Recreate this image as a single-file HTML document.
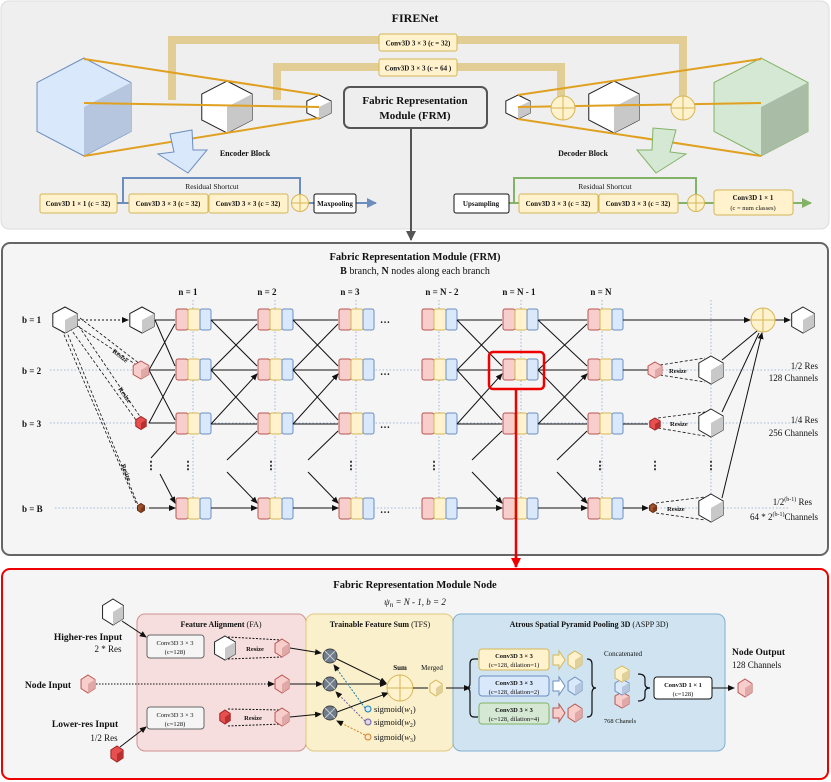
<!DOCTYPE html>
<html><head><meta charset="utf-8"><style>
html,body{margin:0;padding:0;background:#fff}
svg{display:block}
text{font-family:"Liberation Serif",serif;fill:#111}
.b{font-weight:bold}
</style></head><body>
<svg width="831" height="782" viewBox="0 0 831 782" xmlns="http://www.w3.org/2000/svg">
<defs>
<marker id="ar" markerWidth="7" markerHeight="7" refX="6" refY="3.5" orient="auto" markerUnits="userSpaceOnUse"><path d="M0,0.5 L7,3.5 L0,6.5 Z" fill="#111"/></marker>
<marker id="arg" markerWidth="10" markerHeight="10" refX="9" refY="5" orient="auto" markerUnits="userSpaceOnUse"><path d="M0,0 L10,5 L0,10 Z" fill="#555"/></marker>
<marker id="arr" markerWidth="10" markerHeight="10" refX="9" refY="5" orient="auto" markerUnits="userSpaceOnUse"><path d="M0,0 L10,5 L0,10 Z" fill="#e00"/></marker>
<marker id="arb" markerWidth="10" markerHeight="10" refX="9" refY="5" orient="auto" markerUnits="userSpaceOnUse"><path d="M0,0 L10,5 L0,10 Z" fill="#6c8ebf"/></marker>
<marker id="argr" markerWidth="10" markerHeight="10" refX="9" refY="5" orient="auto" markerUnits="userSpaceOnUse"><path d="M0,0 L10,5 L0,10 Z" fill="#82b366"/></marker>
<g id="cW"><polygon points="0,-1 0.87,-0.5 0.87,0.5 0,1 -0.87,0.5 -0.87,-0.5" fill="#fff" stroke="#222" vector-effect="non-scaling-stroke"/><polygon points="0,0 0.87,-0.5 0.87,0.5 0,1" fill="#c8c8c8" stroke="none"/></g>
<g id="cP"><polygon points="0,-1 0.87,-0.5 0.87,0.5 0,1 -0.87,0.5 -0.87,-0.5" fill="#f8cecc" stroke="#b85450" vector-effect="non-scaling-stroke"/><polygon points="0,0 0.87,-0.5 0.87,0.5 0,1" fill="#e0a8a6"/></g>
<g id="cR"><polygon points="0,-1 0.87,-0.5 0.87,0.5 0,1 -0.87,0.5 -0.87,-0.5" fill="#e85050" stroke="#a02020" vector-effect="non-scaling-stroke"/><polygon points="0,0 0.87,-0.5 0.87,0.5 0,1" fill="#b83030"/></g>
<g id="cBr"><polygon points="0,-1 0.87,-0.5 0.87,0.5 0,1 -0.87,0.5 -0.87,-0.5" fill="#a0522d" stroke="#5a2a10" vector-effect="non-scaling-stroke"/><polygon points="0,0 0.87,-0.5 0.87,0.5 0,1" fill="#7a3a1a"/></g>
<g id="cY"><polygon points="0,-1 0.87,-0.5 0.87,0.5 0,1 -0.87,0.5 -0.87,-0.5" fill="#fff2cc" stroke="#d6b656" vector-effect="non-scaling-stroke"/><polygon points="0,0 0.87,-0.5 0.87,0.5 0,1" fill="#e0d09a"/></g>
<g id="cBl"><polygon points="0,-1 0.87,-0.5 0.87,0.5 0,1 -0.87,0.5 -0.87,-0.5" fill="#dae8fc" stroke="#6c8ebf" vector-effect="non-scaling-stroke"/><polygon points="0,0 0.87,-0.5 0.87,0.5 0,1" fill="#b5c6de"/></g>
<g id="cG"><polygon points="0,-1 0.87,-0.5 0.87,0.5 0,1 -0.87,0.5 -0.87,-0.5" fill="#d5e8d4" stroke="#82b366" vector-effect="non-scaling-stroke"/><polygon points="0,0 0.87,-0.5 0.87,0.5 0,1" fill="#a8bca6"/></g>
<g id="trip"><rect x="0" y="0" width="12" height="21" rx="2" fill="#f8cecc" stroke="#b85450"/><rect x="12" y="0" width="12" height="21" rx="2" fill="#fff2cc" stroke="#d6b656"/><rect x="24" y="0" width="11" height="21" rx="2" fill="#dae8fc" stroke="#6c8ebf"/></g>
<g id="plusY"><circle r="1" fill="#fff2cc" stroke="#d6b656" vector-effect="non-scaling-stroke"/><path d="M-1,0H1M0,-1V1" stroke="#d6b656" vector-effect="non-scaling-stroke"/></g>
<g id="mul"><circle r="7" fill="#6d7b8d" stroke="#444"/><path d="M-5,-5L5,5M5,-5L-5,5" stroke="#ccc"/></g>
</defs>

<!-- TOP PANEL -->
<rect x="1" y="1" width="828" height="228" rx="8" fill="#efefef" stroke="#ddd"/>
<text x="415" y="22" text-anchor="middle" class="b" font-size="12">FIRENet</text>
<path d="M172,100 V40 H683 V100" fill="none" stroke="#e2cd94" stroke-width="8"/>
<path d="M277,100 V67 H561 V100" fill="none" stroke="#e2cd94" stroke-width="8"/>
<rect x="379" y="34" width="78" height="17" rx="2" fill="#fff2cc" stroke="#d6b656"/>
<text x="418" y="45.5" text-anchor="middle" font-size="7" class="b">Conv3D 3 × 3 (c = 32)</text>
<rect x="379" y="59" width="78" height="17" rx="2" fill="#fff2cc" stroke="#d6b656"/>
<text x="418" y="70.5" text-anchor="middle" font-size="7" class="b">Conv3D 3 × 3 (c = 64 )</text>
<use href="#cBl" transform="translate(84,107) scale(54,49)"/>
<use href="#cW" transform="translate(227,107) scale(29,26)"/>
<use href="#cW" transform="translate(319,107) scale(14,12)"/>
<use href="#cW" transform="translate(518,107) scale(14,12)"/>
<use href="#cW" transform="translate(614,107) scale(29,26)"/>
<use href="#cG" transform="translate(761,107) scale(54,49)"/>
<g stroke="#e0a020" stroke-width="2" fill="none">
<path d="M84,59 L319,95 M84,103 L319,107 M84,156 L319,118"/>
<path d="M761,59 L518,95 M761,103 L518,107 M761,156 L518,119"/>
</g>
<use href="#plusY" transform="translate(563,108) scale(12)"/>
<use href="#plusY" transform="translate(683,108) scale(12)"/>
<rect x="344" y="87" width="143" height="41" rx="6" fill="#eee" stroke="#555" stroke-width="2"/>
<text x="415" y="104" text-anchor="middle" class="b" font-size="11">Fabric Representation</text>
<text x="415" y="119" text-anchor="middle" class="b" font-size="11">Module (FRM)</text>
<line x1="411" y1="128" x2="411" y2="240" stroke="#555" stroke-width="2" marker-end="url(#arg)"/>
<polygon points="170,134 192,130 193,150 207,150 188,173 158,154 174,152" fill="#dae8fc" stroke="#6c8ebf"/>
<polygon points="676,130 653,128 652,150 637,150 656,173 686,154 670,152" fill="#d5e8d4" stroke="#82b366"/>
<text x="245" y="156" text-anchor="middle" class="b" font-size="8">Encoder Block</text>
<text x="583" y="156" text-anchor="middle" class="b" font-size="8">Decoder Block</text>
<!-- encoder row -->
<path d="M123,203 V178 H300 V195" fill="none" stroke="#6c8ebf" stroke-width="2"/>
<line x1="309" y1="203" x2="314" y2="203" stroke="#6c8ebf" stroke-width="2"/>
<line x1="356" y1="203" x2="376" y2="203" stroke="#6c8ebf" stroke-width="2" marker-end="url(#arb)"/>
<text x="212" y="189" text-anchor="middle" font-size="7.5">Residual Shortcut</text>
<rect x="40" y="194" width="77" height="19" rx="2" fill="#fff2cc" stroke="#d6b656"/>
<text x="78" y="206" text-anchor="middle" font-size="7" class="b">Conv3D 1 × 1 (c = 32)</text>
<line x1="117" y1="203" x2="129" y2="203" stroke="#6c8ebf" stroke-width="2"/>
<rect x="129" y="194" width="79" height="19" rx="2" fill="#fff2cc" stroke="#d6b656"/>
<text x="168" y="206" text-anchor="middle" font-size="7" class="b">Conv3D 3 × 3 (c = 32)</text>
<rect x="209" y="194" width="79" height="19" rx="2" fill="#fff2cc" stroke="#d6b656"/>
<text x="248" y="206" text-anchor="middle" font-size="7" class="b">Conv3D 3 × 3 (c = 32)</text>
<use href="#plusY" transform="translate(300,203) scale(8.5)"/>
<rect x="314" y="194" width="42" height="19" rx="2" fill="#fff" stroke="#111"/>
<text x="335" y="206" text-anchor="middle" font-size="7" class="b">Maxpooling</text>
<!-- decoder row -->
<path d="M514,203 V178 H696 V195" fill="none" stroke="#82b366" stroke-width="2"/>
<line x1="509" y1="203" x2="519" y2="203" stroke="#82b366" stroke-width="2"/>
<line x1="678" y1="203" x2="688" y2="203" stroke="#82b366" stroke-width="2"/>
<line x1="704" y1="203" x2="714" y2="203" stroke="#82b366" stroke-width="2"/>
<line x1="793" y1="203" x2="811" y2="203" stroke="#82b366" stroke-width="2" marker-end="url(#argr)"/>
<text x="605" y="189" text-anchor="middle" font-size="7.5">Residual Shortcut</text>
<rect x="454" y="194" width="55" height="19" rx="2" fill="#fff" stroke="#111"/>
<text x="481" y="206" text-anchor="middle" font-size="7" class="b">Upsampling</text>
<rect x="519" y="194" width="79" height="19" rx="2" fill="#fff2cc" stroke="#d6b656"/>
<text x="558" y="206" text-anchor="middle" font-size="7" class="b">Conv3D 3 × 3 (c = 32)</text>
<rect x="599" y="194" width="79" height="19" rx="2" fill="#fff2cc" stroke="#d6b656"/>
<text x="638" y="206" text-anchor="middle" font-size="7" class="b">Conv3D 3 × 3 (c = 32)</text>
<use href="#plusY" transform="translate(696,203) scale(8.5)"/>
<rect x="714" y="190" width="79" height="25" rx="3" fill="#fff2cc" stroke="#d6b656"/>
<text x="753" y="200" text-anchor="middle" font-size="7" class="b">Conv3D 1 × 1</text>
<text x="753" y="210" text-anchor="middle" font-size="6.5">(c = num classes)</text>

<!-- FRM PANEL -->
<rect x="2" y="243" width="826" height="312" rx="8" fill="#f5f5f5" stroke="#666" stroke-width="2"/>
<text x="415" y="260" text-anchor="middle" class="b" font-size="10.5">Fabric Representation Module (FRM)</text>
<text x="415" y="274" text-anchor="middle" font-size="10"><tspan class="b">B</tspan> branch, <tspan class="b">N</tspan> nodes along each branch</text>
<g font-size="9" class="b" text-anchor="middle">
<text x="188" y="295">n = 1</text><text x="267" y="295">n = 2</text><text x="350" y="295">n = 3</text>
<text x="442" y="295">n = N - 2</text><text x="519" y="295">n = N - 1</text><text x="601" y="295">n = N</text>
</g>
<g stroke="#8aa6d0" stroke-width="0.8" stroke-dasharray="1.5,2">
<path d="M193,300V520 M275,300V520 M356,300V520 M439,300V520 M521,300V520 M602,300V520 M711,300V520"/>
<path d="M50,370H800 M50,423H800 M55,508H790"/>
</g>
<g font-size="9" class="b">
<text x="22" y="323">b = 1</text><text x="22" y="374">b = 2</text><text x="22" y="427">b = 3</text><text x="22" y="512">b = B</text>
</g>
<g>
<use href="#trip" x="176" y="309"/><use href="#trip" x="258" y="309"/><use href="#trip" x="339" y="309"/><use href="#trip" x="422" y="309"/><use href="#trip" x="503" y="309"/><use href="#trip" x="588" y="309"/>
<use href="#trip" x="176" y="359"/><use href="#trip" x="258" y="359"/><use href="#trip" x="339" y="359"/><use href="#trip" x="422" y="359"/><use href="#trip" x="503" y="359"/><use href="#trip" x="588" y="359"/>
<use href="#trip" x="176" y="413"/><use href="#trip" x="258" y="413"/><use href="#trip" x="339" y="413"/><use href="#trip" x="422" y="413"/><use href="#trip" x="503" y="413"/><use href="#trip" x="588" y="413"/>
<use href="#trip" x="176" y="498"/><use href="#trip" x="258" y="498"/><use href="#trip" x="339" y="498"/><use href="#trip" x="422" y="498"/><use href="#trip" x="503" y="498"/><use href="#trip" x="588" y="498"/>
</g>
<g font-size="10" class="b">
<text x="380" y="323">…</text><text x="380" y="375">…</text><text x="380" y="428">…</text><text x="380" y="513">…</text>
</g>
<g font-size="11" class="b" text-anchor="middle">
<text x="151" y="469">⋮</text><text x="188" y="469">⋮</text><text x="271" y="469">⋮</text><text x="351" y="469">⋮</text><text x="434" y="469">⋮</text><text x="600" y="469">⋮</text><text x="655" y="469">⋮</text><text x="711" y="469">⋮</text>
</g>
<g stroke="#111" stroke-width="1" fill="none" marker-end="url(#ar)">
<path d="M211,320H257 M211,370H257 M211,424H257 M211,508H257"/>
<path d="M211,320L257,366 M211,370L257,324 M211,370L257,420 M211,424L257,374"/>
<path d="M293,320H338 M293,370H338 M293,424H338 M293,508H338"/>
<path d="M293,320L338,366 M293,370L338,324 M293,370L338,420 M293,424L338,374"/>
<path d="M457,320H502 M457,370H502 M457,424H502 M457,508H502"/>
<path d="M457,320L502,366 M457,370L502,324 M457,370L502,420 M457,424L502,374"/>
<path d="M538,320H587 M538,370H587 M538,424H587 M538,508H587"/>
<path d="M538,320L587,366 M538,370L587,324 M538,370L587,420 M538,424L587,374"/>
<!-- from dots region -->
<path d="M151,458L175,431 M160,474L175,503"/>
<path d="M227,460L257,431 M227,472L257,503"/>
<path d="M308,460L338,431 M308,472L338,503"/>
<path d="M472,460L502,431 M472,472L502,503"/>
<path d="M557,460L587,431 M557,472L587,503"/>
<path d="M155,320H175 M155,320L175,366 M149,370H175 M149,370L175,324 M149,370L175,420 M149,423H175 M149,423L175,374 M149,508H175"/>
<path d="M623,320H750"/>
<path d="M623,370H648 M623,424H648 M623,508H648"/>
<path d="M722,360L757,331 M722,412L759,333 M722,498L762,333"/>
<path d="M775,320H790"/>
</g>
<path d="M78,320H128" stroke="#111" stroke-dasharray="2,2" marker-end="url(#ar)"/>
<g stroke="#111" stroke-width="0.8" stroke-dasharray="3,2" fill="none">
<path d="M76,325L138,366 M70,328L136,420 M66,330L138,505 M80,318L140,364 M76,322L141,418 M62,330L136,503"/>
<path d="M660,365L705,358 M660,375L705,382 M658,418L705,412 M658,428L705,436 M656,503L705,497 M656,513L705,520"/>
</g>
<g font-size="6.5" class="b">
<text transform="translate(112,352) rotate(38)">Resize</text>
<text transform="translate(118,389) rotate(55)">Resize</text>
<text transform="translate(121,465) rotate(68)">Resize</text>
<text x="669" y="373">Resize</text><text x="670" y="426">Resize</text><text x="667" y="511">Resize</text>
</g>
<use href="#cW" transform="translate(65,320) scale(14,13)"/>
<use href="#cW" transform="translate(142,320) scale(14,13)"/>
<use href="#cP" transform="translate(141,370) scale(9,9)"/>
<use href="#cR" transform="translate(141,423) scale(6,6.5)"/>
<use href="#cBr" transform="translate(141,508) scale(4,4.5)"/>
<use href="#cP" transform="translate(655,370) scale(8,8)"/>
<use href="#cR" transform="translate(655,424) scale(6,6)"/>
<use href="#cBr" transform="translate(653,508) scale(4,4.5)"/>
<use href="#cW" transform="translate(711,370) scale(14,14)"/>
<use href="#cW" transform="translate(711,423) scale(14,14)"/>
<use href="#cW" transform="translate(711,508) scale(14,14)"/>
<use href="#plusY" transform="translate(763,320) scale(12)"/>
<use href="#cW" transform="translate(803,320) scale(13,13)"/>
<g font-size="9" text-anchor="end">
<text x="818" y="369">1/2 Res</text><text x="818" y="381">128 Channels</text>
<text x="818" y="423">1/4 Res</text><text x="818" y="436">256 Channels</text>
<text x="812" y="505">1/2<tspan font-size="6" dy="-4">(b-1)</tspan><tspan dy="4"> Res</tspan></text>
<text x="818" y="520">64 * 2<tspan font-size="6" dy="-4">(b-1)</tspan><tspan dy="4">Channels</tspan></text>
</g>
<rect x="489" y="352" width="55" height="37" rx="4" fill="none" stroke="#e00" stroke-width="2.5"/>
<line x1="516" y1="389" x2="516" y2="567" stroke="#e00" stroke-width="2.5" marker-end="url(#arr)"/>

<!-- NODE PANEL -->
<rect x="2" y="569" width="826" height="210" rx="8" fill="#f5f5f5" stroke="#e00" stroke-width="2"/>
<line x1="516" y1="555" x2="516" y2="567" stroke="#e00" stroke-width="2.5"/>
<text x="415" y="588" text-anchor="middle" class="b" font-size="10.5">Fabric Representation Module Node</text>
<text x="415" y="605" text-anchor="middle" font-style="italic" font-size="9">ψ<tspan font-size="7" dy="2">n</tspan><tspan dy="-2"> = N - 1, b = 2</tspan></text>
<rect x="137" y="614" width="169" height="137" rx="8" fill="#f6dede" stroke="#d09090"/>
<rect x="306" y="614" width="147" height="137" rx="8" fill="#fbf0cc" stroke="#e0c880"/>
<rect x="453" y="614" width="272" height="137" rx="8" fill="#cfe4f0" stroke="#80b0d0"/>
<text x="221" y="627" text-anchor="middle" font-size="8"><tspan class="b">Feature Alignment</tspan> (FA)</text>
<text x="380" y="627" text-anchor="middle" font-size="8"><tspan class="b">Trainable Feature Sum</tspan> (TFS)</text>
<text x="589" y="627" text-anchor="middle" font-size="8"><tspan class="b">Atrous Spatial Pyramid Pooling 3D</tspan> (ASPP 3D)</text>
<use href="#cW" transform="translate(113,612) scale(12,13)"/>
<text x="88" y="640" text-anchor="middle" class="b" font-size="9.5">Higher-res Input</text>
<text x="108" y="652" text-anchor="middle" font-size="9">2 * Res</text>
<text x="48" y="688" text-anchor="middle" class="b" font-size="9.5">Node Input</text>
<use href="#cP" transform="translate(88,684) scale(8,9)"/>
<text x="85" y="727" text-anchor="middle" class="b" font-size="9.5">Lower-res Input</text>
<text x="104" y="741" text-anchor="middle" font-size="9">1/2 Res</text>
<use href="#cR" transform="translate(117,754) scale(7,8)"/>
<g stroke="#111" fill="none" marker-end="url(#ar)">
<path d="M122,621L146,637"/><path d="M120,747L146,727"/>
<path d="M290,648L321,653"/><path d="M290,684H322"/><path d="M290,717L321,714"/>
<path d="M337,659L386,683"/><path d="M337,684H386"/><path d="M337,712L388,693"/>
<path d="M446,688H470"/><path d="M712,688H734"/>
</g>
<path d="M96,684H274" stroke="#111" stroke-dasharray="1.5,1.5" marker-end="url(#ar)"/>
<rect x="147" y="635" width="57" height="23" rx="3" fill="#f5f5f5" stroke="#666"/>
<text x="175" y="645" text-anchor="middle" font-size="6.5">Conv3D 3 × 3</text>
<text x="175" y="654" text-anchor="middle" font-size="6.5">(c=128)</text>
<rect x="147" y="707" width="57" height="22" rx="3" fill="#f5f5f5" stroke="#666"/>
<text x="175" y="717" text-anchor="middle" font-size="6.5">Conv3D 3 × 3</text>
<text x="175" y="726" text-anchor="middle" font-size="6.5">(c=128)</text>
<path d="M228,637L282,640 M228,659L282,657 M228,709L282,710 M228,726L282,724" stroke="#111" stroke-dasharray="2,1.5" fill="none"/>
<use href="#cW" transform="translate(225,648) scale(12,12)"/>
<use href="#cP" transform="translate(282,648) scale(8,9)"/>
<use href="#cP" transform="translate(282,684) scale(8,9)"/>
<use href="#cR" transform="translate(225,717) scale(6,7)"/>
<use href="#cP" transform="translate(282,717) scale(8,9)"/>
<text x="255" y="651" text-anchor="middle" class="b" font-size="6.5">Resize</text>
<text x="253" y="720" text-anchor="middle" class="b" font-size="6.5">Resize</text>
<use href="#mul" transform="translate(330,656)"/>
<use href="#mul" transform="translate(330,684)"/>
<use href="#mul" transform="translate(330,713)"/>
<use href="#plusY" transform="translate(400,688) scale(13)"/>
<text x="400" y="670" text-anchor="middle" class="b" font-size="7">Sum</text>
<text x="432" y="670" text-anchor="middle" font-size="7">Merged</text>
<line x1="413" y1="688" x2="428" y2="688" stroke="#111"/>
<use href="#cY" transform="translate(436,688) scale(7,8)"/>
<path d="M365,708L334,665" stroke="#1b7fa6" stroke-dasharray="2,1.5" fill="none" marker-end="url(#ar)"/>
<path d="M365,721L336,692" stroke="#6a5fa8" stroke-dasharray="2,1.5" fill="none" marker-end="url(#ar)"/>
<path d="M365,735L337,721" stroke="#d08020" stroke-dasharray="2,1.5" fill="none" marker-end="url(#ar)"/>
<circle cx="368" cy="709" r="3" fill="#dae8fc" stroke="#1b7fa6"/>
<circle cx="368" cy="722" r="3" fill="#e1d5e7" stroke="#6a5fa8"/>
<circle cx="368" cy="737" r="3" fill="#ffe6cc" stroke="#d08020"/>
<g font-size="8.5"><text x="374" y="712">sigmoid(<tspan font-style="italic">w</tspan><tspan font-size="6" dy="2">1</tspan><tspan dy="-2">)</tspan></text>
<text x="374" y="725">sigmoid(<tspan font-style="italic">w</tspan><tspan font-size="6" dy="2">2</tspan><tspan dy="-2">)</tspan></text>
<text x="374" y="740">sigmoid(<tspan font-style="italic">w</tspan><tspan font-size="6" dy="2">3</tspan><tspan dy="-2">)</tspan></text></g>
<path d="M478,659 H474 Q470,659 470,664 V683 Q470,688 466,688 Q470,688 470,693 V712 Q470,717 474,717 H478" fill="none" stroke="#111" stroke-width="1.2"/>
<rect x="479" y="649" width="70" height="21" rx="3" fill="#fff2cc" stroke="#d6b656"/>
<text x="514" y="658" text-anchor="middle" class="b" font-size="6.5">Conv3D 3 × 3</text>
<text x="514" y="667" text-anchor="middle" font-size="6.5">(c=128, dilation=1)</text>
<rect x="479" y="676" width="70" height="20" rx="3" fill="#dae8fc" stroke="#6c8ebf"/>
<text x="514" y="685" text-anchor="middle" class="b" font-size="6.5">Conv3D 3 × 3</text>
<text x="514" y="694" text-anchor="middle" font-size="6.5">(c=128, dilation=2)</text>
<rect x="479" y="703" width="70" height="21" rx="3" fill="#d5e8d4" stroke="#82b366"/>
<text x="514" y="712" text-anchor="middle" class="b" font-size="6.5">Conv3D 3 × 3</text>
<text x="514" y="721" text-anchor="middle" font-size="6.5">(c=128, dilation=4)</text>
<polygon points="553,655 559,655 559,651 565,660 559,669 559,665 553,665" fill="#fff2cc" stroke="#d6b656"/>
<polygon points="553,681 559,681 559,677 565,686 559,695 559,691 553,691" fill="#fff" stroke="#6c8ebf"/>
<polygon points="553,708 559,708 559,704 565,713 559,722 559,718 553,718" fill="#f8cecc" stroke="#b85450"/>
<use href="#cY" transform="translate(575,660) scale(8,9)"/>
<use href="#cBl" transform="translate(575,686) scale(8,9)"/>
<use href="#cP" transform="translate(575,713) scale(8,9)"/>
<path d="M587,659 Q592,659 592,664 V683 Q592,688 596,688 Q592,688 592,693 V712 Q592,717 587,717" fill="none" stroke="#111" stroke-width="1.2"/>
<text x="623" y="656" text-anchor="middle" font-size="7">Concatenated</text>
<use href="#cP" transform="translate(622,700) scale(8,8)"/>
<use href="#cBl" transform="translate(622,687) scale(8,8)"/>
<use href="#cY" transform="translate(622,674) scale(8,8)"/>
<path d="M638,674 Q645,674 645,679 V684 Q645,688 650,688 Q645,688 645,692 V696 Q645,701 638,701" fill="none" stroke="#111" stroke-width="1.2"/>
<text x="620" y="723" text-anchor="middle" font-size="6.5">768 Chanels</text>
<rect x="654" y="677" width="58" height="22" rx="3" fill="#fff" stroke="#111"/>
<text x="683" y="687" text-anchor="middle" class="b" font-size="6.5">Conv3D 1 × 1</text>
<text x="683" y="696" text-anchor="middle" font-size="6.5">(c=128)</text>
<text x="732" y="655" class="b" font-size="9.5">Node Output</text>
<text x="732" y="668" font-size="9">128 Channels</text>
<use href="#cP" transform="translate(745,688) scale(8,9)"/>
</svg>
</body></html>
